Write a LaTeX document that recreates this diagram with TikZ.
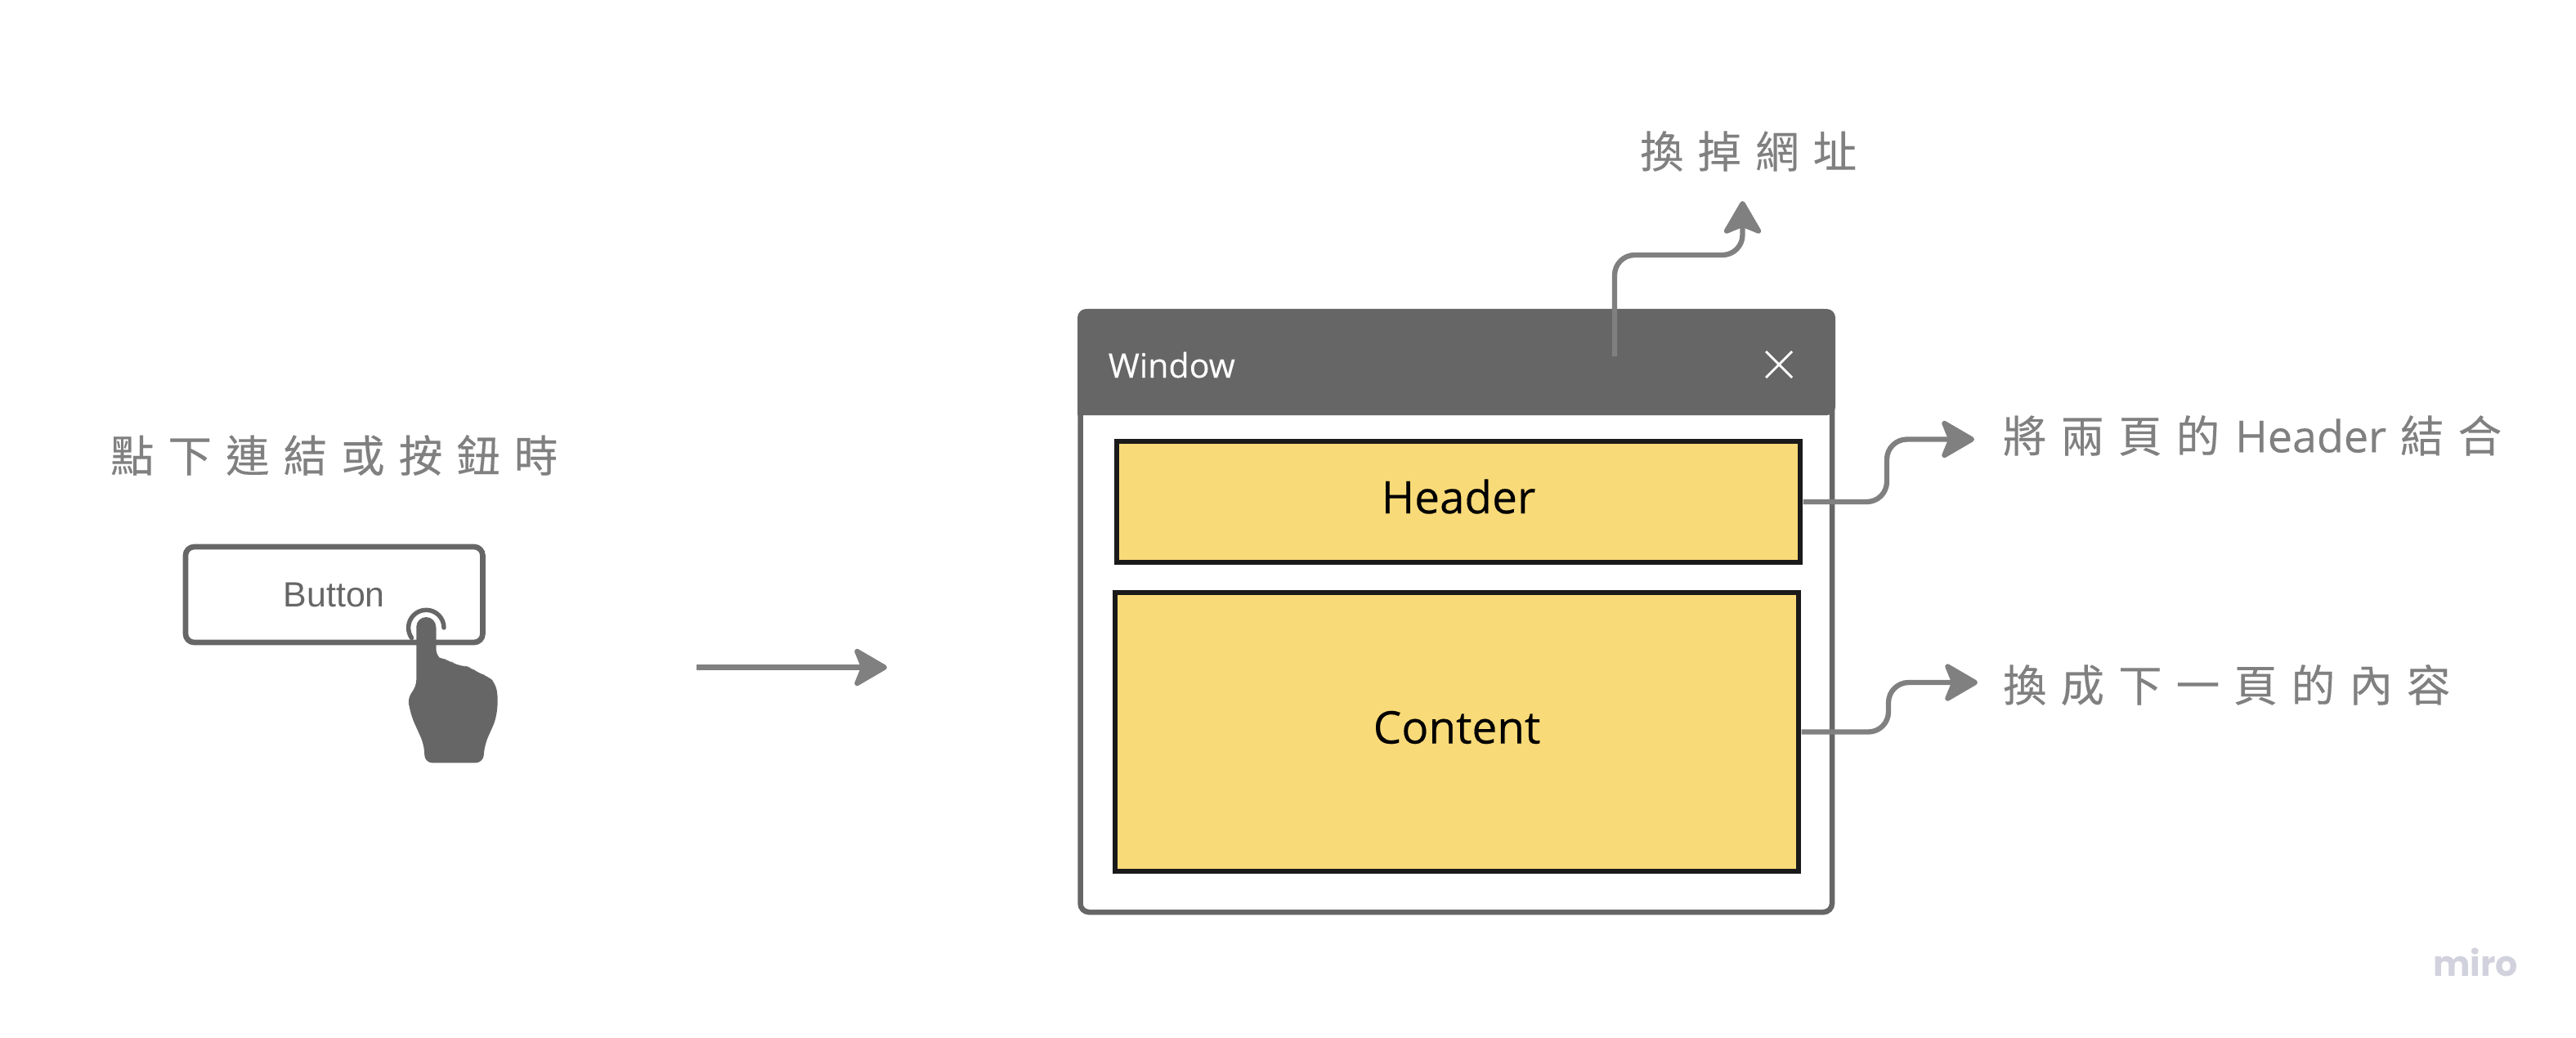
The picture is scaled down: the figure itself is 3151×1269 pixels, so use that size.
\documentclass[tikz,border=0pt]{standalone}
\usepackage{fontspec}
\setmainfont{Open Sans}
\newfontfamily\cjkfont[LetterSpace=32, FakeBold=0.25]{Noto Sans CJK TC}
\newfontfamily\latinfont[FakeBold=0.25]{Open Sans}
\newfontfamily\btnfont{Liberation Sans}
\newfontfamily\markfont{Poppins}
\usetikzlibrary{arrows.meta}
\definecolor{framegrey}{HTML}{666666}
\definecolor{flowgrey}{HTML}{808080}
\definecolor{boxyellow}{HTML}{F9DA78}
\definecolor{boxblack}{HTML}{1A1A1A}
\definecolor{markgrey}{HTML}{D2D2DE}
\tikzstyle{caption}=[anchor=west, inner sep=0pt, outer sep=0pt, text=flowgrey, font=\cjkfont\fontsize{15.2pt}{18pt}\selectfont]
\tikzstyle{flow}=[draw=flowgrey, line width=1.8pt, rounded corners=7pt, -{Stealth[length=13pt, width=15pt, inset=3pt, round]}]
\tikzstyle{buttonbox}=[draw=framegrey, line width=1.9pt, fill=white, rounded corners=3pt, minimum width=363.5*0.01cm, minimum height=117*0.01cm, inner sep=0pt, outer sep=0pt, text=framegrey, text height=9pt, text depth=0.6pt, font=\btnfont\fontsize{12.2pt}{14pt}\selectfont]
\tikzstyle{windowbox}=[draw=framegrey, line width=1.85pt, fill=white, rounded corners=3pt, minimum width=919.5*0.01cm, minimum height=735*0.01cm, inner sep=0pt, outer sep=0pt]
\tikzstyle{partbox}=[draw=boxblack, line width=1.9pt, fill=boxyellow, inner sep=0pt, outer sep=0pt, text=black, text height=12pt, text depth=4pt, font=\latinfont\fontsize{15.6pt}{18pt}\selectfont]

\begin{document}
\begin{tikzpicture}[x=0.01cm, y=-0.01cm]
	\useasboundingbox (0,0) rectangle (3151,1269);
	% left side
	\begin{scope}
		\node (clicktext) at (135,557)[caption] {點下連結或按鈕時};
		\node (button) at (408.7,727.5)[buttonbox] {Button};
		\draw [framegrey, line width=1.55pt, line cap=round] (543,768) arc (0:-215:21.7);
		\fill [framegrey] (509.3,767) arc (180:360:12) -- (533.3,803.3);
		\fill [framegrey, rounded corners=2.5pt] (509.3,760) -- (533.3,760) -- (533.3,803) -- (538.3,806) -- (550,807.3) -- (558.3,815) -- (566.7,814.3) -- (576.7,816.7) -- (585,824) -- (596.7,826.7) -- (606.7,836.7) -- (609.3,856.7) -- (606.7,880) -- (593.3,910) -- (590.7,933.3) -- (520,933.3) -- (518.3,910) -- (503.3,876.7) -- (498.3,853.3) -- (509.3,840.7) -- cycle;
		\coordinate (gostart) at (852,816.5);
		\coordinate (goend) at (1085,816.5);
		\draw [flow] (gostart) -- (goend);
	\end{scope}
	% window
	\begin{scope}
		\node (window) at (1781.25,748.5)[windowbox] {};
		\fill [framegrey, rounded corners=3pt] (1318,508) -- (1318,378) -- (2245,378) -- (2245,508) [sharp corners] -- cycle;
		\node (windowtext) at (1355,462)[anchor=base west, inner sep=0pt, text=white, font=\latinfont\fontsize{11.7pt}{14pt}\selectfont] {Window};
		\coordinate (closea) at (2160,430);
		\coordinate (closeb) at (2192,462);
		\coordinate (closec) at (2160,462);
		\coordinate (closed) at (2192,430);
		\draw [white, line width=0.8pt] (closea) -- (closeb);
		\draw [white, line width=0.8pt] (closec) -- (closed);
		\node (header) at (1784,614)[partbox, minimum width=836*0.01cm, minimum height=148*0.01cm] {Header};
		\node (content) at (1782,895.5)[partbox, minimum width=836*0.01cm, minimum height=341*0.01cm] {Content};
	\end{scope}
	% labels and flows
	\begin{scope}
		\node (urltext) at (2006,185)[caption] {換掉網址};
		\node (headertext) at (2450,533)[caption] {將兩頁的\hspace{5.4pt}{\latinfont\fontsize{15.3pt}{18pt}\selectfont Header}\hspace{4.8pt}結合};
		\node (contenttext) at (2450,838)[caption] {換成下一頁的內容};
		\coordinate (urlstart) at (1975,436);
		\coordinate (urlbend) at (1975,312);
		\coordinate (urltip) at (2131.5,246);
		\coordinate (headerbend) at (2308,537.5);
		\coordinate (headertip) at (2415,537.5);
		\coordinate (contentbend) at (2310,835);
		\coordinate (contenttip) at (2419,835);
		\path [flow] (urlstart) -- (urlbend) -| (urltip);
		\path [flow, shorten <=1pt] (header.east) -| (headerbend) -- (headertip);
		\path [flow, shorten <=1pt] (content.east) -| (contentbend) -- (contenttip);
	\end{scope}
	\node (miro) at (3028,1194)[anchor=base, inner sep=0pt, text=markgrey, font=\markfont\bfseries\fontsize{12.2pt}{14pt}\selectfont] {miro};
\end{tikzpicture}
\end{document}
